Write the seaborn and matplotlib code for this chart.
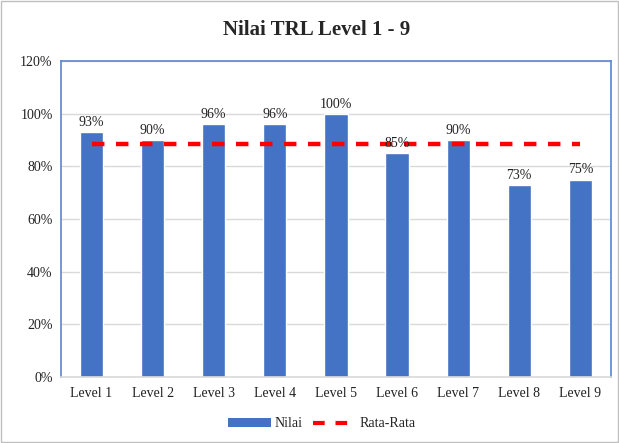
import numpy as np
import pandas as pd
import seaborn as sns
from matplotlib import pyplot as plt
from matplotlib.lines import Line2D
from matplotlib.patches import Patch, Rectangle


levels = ['Level 1', 'Level 2', 'Level 3', 'Level 4', 'Level 5',
          'Level 6', 'Level 7', 'Level 8', 'Level 9']
nilai = [0.93, 0.90, 0.96, 0.96, 1.00, 0.85, 0.90, 0.73, 0.75]
rata_rata = [0.887] * len(levels)

df = pd.DataFrame({'level': levels, 'nilai': nilai, 'rata': rata_rata})

sns.set_style('white')
plt.rcParams['font.family'] = ['Liberation Serif', 'DejaVu Serif']

fig = plt.figure(figsize=(6.19, 4.43), dpi=100)
ax = fig.add_axes([0.0985, 0.149, 0.8885, 0.713])

blue = '#4472C4'
dash = (0, (2.8, 2.6))
sns.barplot(data=df, x='level', y='nilai', color=blue, width=0.38,
            saturation=1, ax=ax, zorder=2)
ax.plot(np.arange(len(levels)), df['rata'], color='#FF0000', lw=3.2,
        ls=dash, zorder=3)

for i, v in enumerate(nilai):
    ax.text(i, v + 0.012, f'{v:.0%}', ha='center', va='bottom', fontsize=10, color='#222222')

ax.set_ylim(0, 1.2)
ax.set_xlim(-0.5, len(levels) - 0.5)
ax.set_yticks(np.arange(0, 1.21, 0.2))
ax.set_yticklabels([f'{t:.0%}' for t in np.arange(0, 1.21, 0.2)])
ax.yaxis.grid(True, color='#D9D9D9', lw=1, zorder=0)
ax.set_axisbelow(True)
ax.tick_params(axis='both', labelsize=10, length=0, colors='#222222')
ax.tick_params(axis='y', pad=6)
ax.tick_params(axis='x', pad=7)
ax.set_xlabel('')
ax.set_ylabel('')
for side in ['left', 'top', 'right']:
    ax.spines[side].set_color('#5B86D1')
    ax.spines[side].set_linewidth(1.2)
ax.spines['bottom'].set_color('#D9D9D9')
ax.spines['bottom'].set_linewidth(1.2)

fig.text(0.512, 0.932, 'Nilai TRL Level 1 - 9', ha='center', va='center',
         fontsize=15, fontweight='bold')

handles = [Patch(facecolor=blue, edgecolor='none'),
           Line2D([0], [0], color='#FF0000', lw=3, ls=dash)]
fig.legend(handles, ['Nilai', 'Rata-Rata'], loc='center', bbox_to_anchor=(0.52, 0.043),
           ncol=2, frameon=False, fontsize=10, handlelength=3.1, handleheight=0.6,
           columnspacing=0.8, handletextpad=0.2)

fig.patches.append(Rectangle((0.002, 0.002), 0.996, 0.996, transform=fig.transFigure,
                             fill=False, edgecolor='#BFBFBF', lw=1))

fig.savefig('out.png', dpi=100)
